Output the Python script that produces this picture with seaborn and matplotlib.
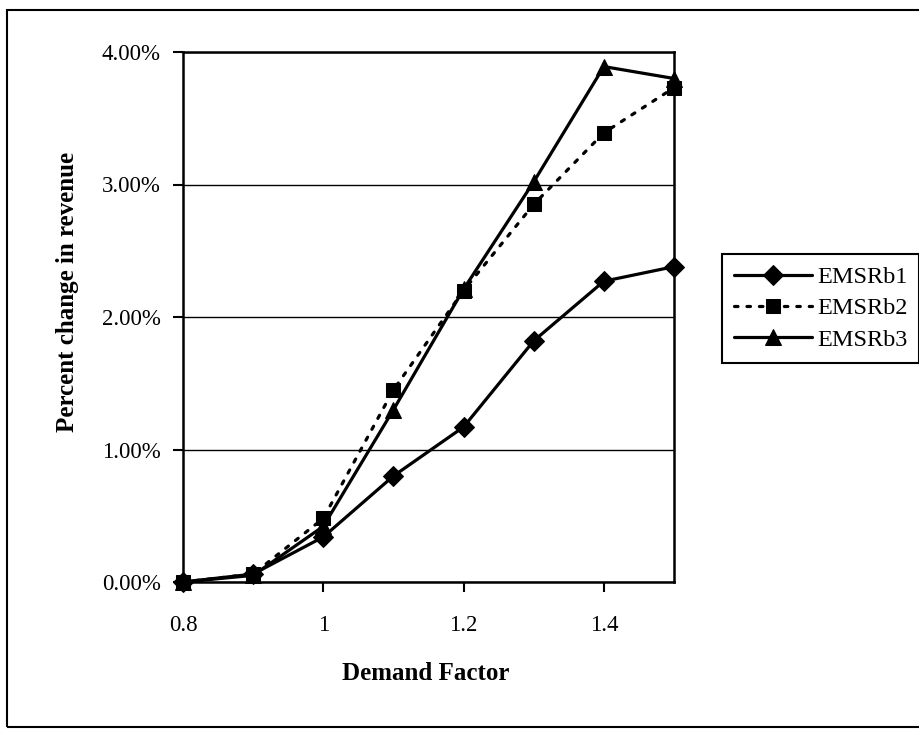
import matplotlib
matplotlib.use("Agg")
import matplotlib.pyplot as plt
import seaborn as sns
import pandas as pd
from matplotlib.ticker import FuncFormatter, FixedLocator
from matplotlib.patches import Rectangle

# ---- data (percent change in revenue) ----
demand = [0.8, 0.9, 1.0, 1.1, 1.2, 1.3, 1.4, 1.5]
emsrb1 = [0.00, 0.06, 0.34, 0.80, 1.17, 1.82, 2.27, 2.38]
emsrb2 = [0.00, 0.06, 0.48, 1.45, 2.20, 2.85, 3.39, 3.73]
emsrb3 = [0.00, 0.05, 0.42, 1.30, 2.21, 3.02, 3.89, 3.80]
series_names = ["EMSRb1", "EMSRb2", "EMSRb3"]
y_ticks = [0, 1, 2, 3, 4]
x_ticks = [0.8, 1.0, 1.2, 1.4]
x_tick_labels = ["0.8", "1", "1.2", "1.4"]
x_title = "Demand Factor"
y_title = "Percent change in revenue"

sns.set_theme(style="white")
plt.rcParams["font.family"] = ["Liberation Serif", "DejaVu Serif"]

W, H = 919, 730
fig = plt.figure(figsize=(W / 100, H / 100), dpi=100)
L, R, T, B = 183, 674, 52, 582
ax = fig.add_axes([L / W, 1 - B / H, (R - L) / W, (B - T) / H])

df = pd.DataFrame({"demand": demand, "EMSRb1": emsrb1, "EMSRb2": emsrb2, "EMSRb3": emsrb3})
styles = {
    "EMSRb1": dict(marker="D", markersize=10, linestyle="-"),
    "EMSRb2": dict(marker="s", markersize=10, linestyle=(0, (1.1, 2.8))),
    "EMSRb3": dict(marker="^", markersize=11, linestyle="-"),
}
for name in series_names:
    sns.lineplot(data=df, x="demand", y=name, ax=ax, color="black", linewidth=2.3,
                 markeredgecolor="black", markerfacecolor="black", label=name,
                 legend=False, clip_on=False, solid_capstyle="round",
                 dash_capstyle="round", **styles[name])

ax.set_xlim(0.8, 1.5)
ax.set_ylim(0, 4)
ax.xaxis.set_major_locator(FixedLocator(x_ticks))
ax.set_xticklabels(x_tick_labels)
ax.yaxis.set_major_locator(FixedLocator(y_ticks))
ax.yaxis.set_major_formatter(FuncFormatter(lambda v, p: f"{v:.2f}%"))
ax.yaxis.grid(True, color="black", linewidth=1.0)
ax.xaxis.grid(False)
for s in ax.spines.values():
    s.set_color("black")
    s.set_linewidth(1.8)
ax.tick_params(axis="both", direction="out", length=7, width=1.5, color="black",
               labelsize=16.5, labelcolor="black")
ax.tick_params(axis="x", pad=17, bottom=True)
ax.tick_params(axis="y", pad=9, left=True)

ax.set_xlabel(x_title, fontsize=18, fontweight="bold", color="black")
ax.set_ylabel(y_title, fontsize=18, fontweight="bold", color="black")
ax.xaxis.set_label_coords((426 - L) / (R - L), (B - 673) / (B - T))
ax.xaxis.label.set_va("center")
ax.yaxis.set_label_coords((68 - L) / (R - L), (B - 292) / (B - T))
ax.yaxis.label.set_va("center")
ax.yaxis.label.set_ha("center")

handles, labels = ax.get_legend_handles_labels()
leg = fig.legend(handles, labels, loc="upper left",
                 bbox_to_anchor=(722 / W, 1 - 254 / H), bbox_transform=fig.transFigure,
                 borderaxespad=0, frameon=True, fancybox=False, edgecolor="black",
                 fontsize=17.5, handlelength=3.2, handletextpad=0.2, labelspacing=0.38,
                 borderpad=0.5, numpoints=1, framealpha=1)
leg.get_frame().set_linewidth(1.5)
for t in leg.get_texts():
    t.set_color("black")

fig.patches.append(Rectangle((7 / W, 1 - 727 / H), (940 - 7) / W, (727 - 10) / H,
                             transform=fig.transFigure, fill=False,
                             edgecolor="black", linewidth=1.5))

fig.savefig("out.png", dpi=100)
